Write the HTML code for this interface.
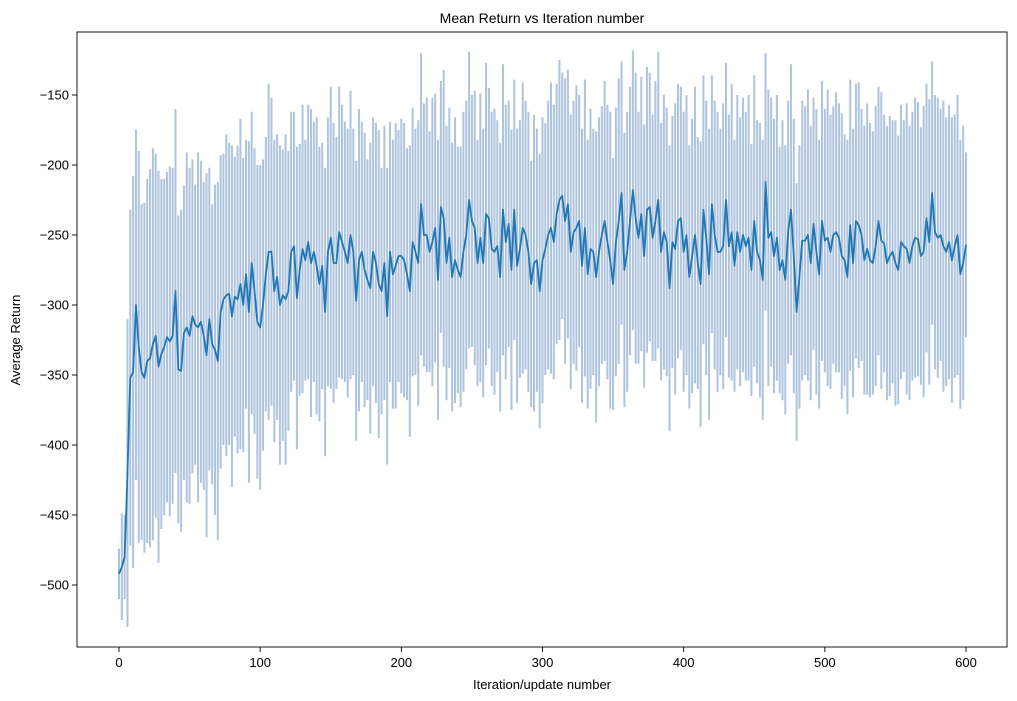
<!DOCTYPE html>
<html><head><meta charset="utf-8"><style>
html,body{margin:0;padding:0;background:#fff;}
svg{display:block;font-family:"Liberation Sans","DejaVu Sans",sans-serif;}
</style></head><body>
<svg id="chart" width="1017" height="701" viewBox="0 0 1017 701">
<rect x="0" y="0" width="1017" height="701" fill="#fff"/>
<text x="542" y="23" font-size="14" text-anchor="middle" fill="#000">Mean Return vs Iteration number</text>
<g id="bars"></g>
<g id="lineg"></g>
<rect x="77" y="32" width="930" height="615" fill="none" stroke="#000" stroke-width="0.9"/>
<g id="xt"></g>
<g id="yt"></g>
<text x="542" y="689" font-size="13" text-anchor="middle">Iteration/update number</text>
<text x="20" y="340" font-size="13" text-anchor="middle" transform="rotate(-90 20 340)">Average Return</text>
</svg>
<script>
const step = 2;
const meanValues = [
-492,-487,-480,-420,-352,-348,-300,-330,-348,-352,-340,-338,-328,-322,-344,-335,-330,-323,-326,-322,-290,
-346,-347,-320,-316,-322,-308,-314,-316,-312,-322,-336,-310,-328,-332,-340,-305,-296,-293,-292,-308,
-294,-296,-285,-300,-278,-305,-270,-290,-312,-316,-300,-278,-262,-262,-290,-280,-300,-293,-296,-290,
-262,-258,-295,-275,-260,-268,-255,-270,-262,-272,-285,-272,-305,-262,-252,-270,-270,-248,-255,-262,
-270,-250,-262,-297,-268,-262,-275,-282,-288,-262,-270,-285,-290,-270,-308,-262,-278,-272,-265,-265,
-268,-278,-290,-255,-262,-270,-228,-250,-250,-262,-255,-245,-282,-230,-238,-270,-252,-280,-268,-275,
-280,-262,-250,-225,-240,-245,-270,-252,-270,-235,-238,-260,-262,-258,-280,-232,-255,-242,-275,-232,
-272,-260,-245,-250,-262,-285,-270,-268,-290,-268,-260,-250,-245,-255,-235,-225,-222,-240,-228,-262,
-248,-245,-240,-272,-245,-278,-260,-262,-280,-262,-250,-240,-255,-268,-285,-255,-240,-220,-275,-262,
-240,-218,-238,-252,-235,-265,-232,-230,-252,-240,-225,-262,-248,-255,-288,-255,-260,-240,-238,-262,
-250,-280,-265,-250,-270,-285,-232,-252,-278,-228,-250,-262,-262,-258,-225,-258,-248,-272,-248,-262,
-250,-258,-252,-275,-240,-262,-268,-282,-212,-252,-248,-265,-252,-275,-268,-282,-248,-232,-265,-305,
-280,-254,-254,-250,-270,-242,-262,-278,-240,-254,-252,-262,-250,-248,-252,-265,-268,-280,-243,-270,
-240,-243,-250,-268,-260,-268,-270,-258,-240,-254,-256,-270,-265,-262,-270,-275,-255,-258,-260,-270,
-258,-252,-253,-265,-262,-238,-255,-220,-248,-252,-250,-258,-262,-255,-268,-258,-250,-278,-270,-257
];
const stdValues = [
18,38,30,110,120,140,125,140,120,125,130,135,140,130,140,125,120,118,125,120,130,
110,115,105,125,120,112,100,125,115,110,130,108,100,118,128,112,104,115,108,122,
100,110,118,105,96,122,108,102,112,116,104,98,120,110,108,102,114,104,118,100,
100,96,108,90,103,86,98,110,93,106,98,88,103,96,108,100,90,104,98,93,
96,103,88,100,108,93,98,86,104,96,100,110,88,98,106,93,96,102,90,98,
98,90,104,96,88,102,108,94,98,86,103,96,100,90,106,98,93,96,102,88,
93,100,96,106,90,98,88,103,96,108,93,98,102,90,96,104,98,88,100,93,
98,92,104,96,100,88,106,94,98,102,90,96,104,98,93,100,88,102,96,98,
94,102,90,98,106,96,100,88,104,96,92,100,98,106,90,96,102,94,98,100,
96,100,104,90,98,94,102,96,88,100,106,92,98,96,102,90,104,98,94,100,
100,94,98,106,90,102,96,98,104,92,96,100,88,102,98,94,106,90,98,96,
98,96,102,90,104,94,98,100,92,106,96,98,102,88,100,96,94,104,98,92,
94,100,96,104,98,90,102,96,100,94,106,98,92,100,96,102,90,98,104,96,
98,102,90,96,104,98,94,100,96,106,92,98,100,94,102,96,98,90,104,98,
96,100,98,92,104,96,102,94,98,100,90,104,96,98,102,94,100,96,98,66
];
const xTicks = [0,100,200,300,400,500,600];
const yTicks = [-500,-450,-400,-350,-300,-250,-200,-150];

const NS = "http://www.w3.org/2000/svg";
function xs(v){ return 119 + (v - 0) * (966 - 119) / 600; }
function ys(v){ return 95 + (-150 - v) * 1.4; }
function mk(tag, attrs, parent){ const e = document.createElementNS(NS, tag); for (const k in attrs) e.setAttribute(k, attrs[k]); parent.appendChild(e); return e; }

const barsG = document.getElementById('bars');
for (let i = 0; i < meanValues.length; i++) {
  const it = i * step;
  const l = mk('line', {x1: xs(it), x2: xs(it), y1: ys(meanValues[i] + stdValues[i]), y2: ys(meanValues[i] - stdValues[i]), stroke: '#aec3dd', 'stroke-width': 2}, barsG);
  
  
}
let d = '';
for (let i = 0; i < meanValues.length; i++) d += (i ? 'L' : 'M') + xs(i * step).toFixed(2) + ',' + ys(meanValues[i]).toFixed(2);
const path = mk('path', {d: d, fill: 'none', stroke: '#1f77b4', 'stroke-width': 1.8, 'stroke-linejoin': 'round'}, document.getElementById('lineg'));



const xt = document.getElementById('xt');
xTicks.forEach(t => {
  const tk = mk('line', {x1: xs(t), x2: xs(t), y1: 647, y2: 652, stroke: '#000', 'stroke-width': 0.9}, xt);
  
  
  const tx = mk('text', {x: xs(t), y: 667, 'font-size': 13, 'text-anchor': 'middle'}, xt);
  tx.textContent = t;
  
  
});
const yt = document.getElementById('yt');
yTicks.forEach(t => {
  const tk = mk('line', {x1: 72, x2: 77, y1: ys(t), y2: ys(t), stroke: '#000', 'stroke-width': 0.9}, yt);
  
  
  const tx = mk('text', {x: 69, y: ys(t) + 4.5, 'font-size': 13, 'text-anchor': 'end'}, yt);
  tx.textContent = '\u2212' + Math.abs(t);
  
  
});
</script>
</body></html>
